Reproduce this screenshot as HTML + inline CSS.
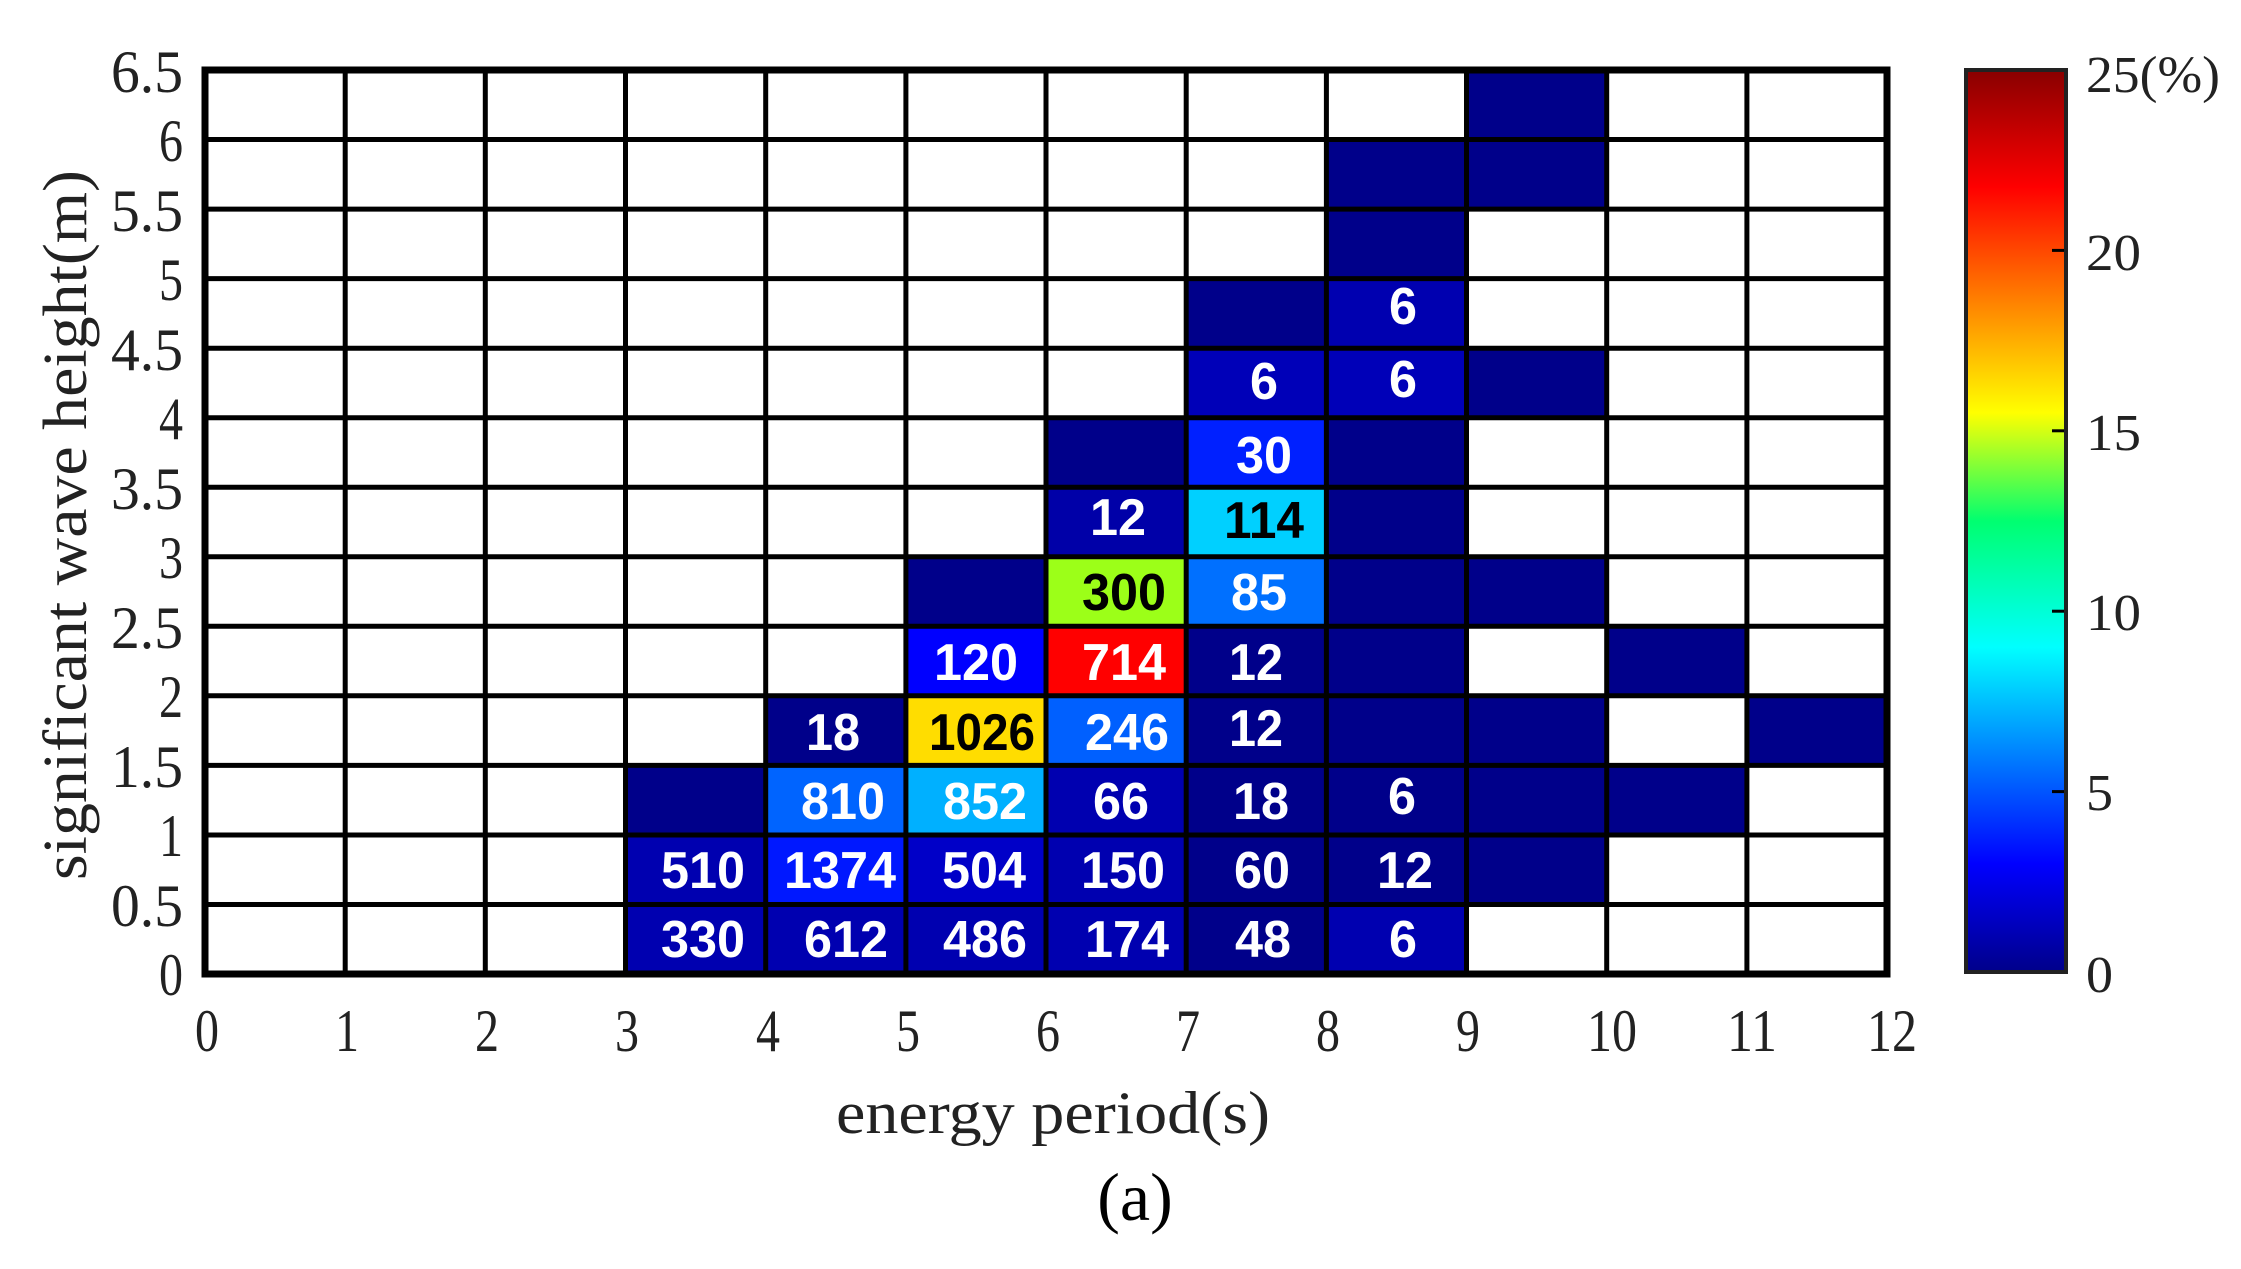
<!DOCTYPE html>
<html><head><meta charset="utf-8"><style>
html,body{margin:0;padding:0;background:#fff;}
svg{display:block;}
.t{font-family:"Liberation Serif",serif;font-size:60px;fill:#222;}
.n{font-family:"Liberation Sans",sans-serif;font-weight:bold;font-size:52px;fill:#fff;text-anchor:middle;}
.k{fill:#000;}
</style></head><body>
<svg width="2241" height="1269" xmlns="http://www.w3.org/2000/svg">
<defs>
<linearGradient id="jet" x1="0" y1="1" x2="0" y2="0">
<stop offset="0" stop-color="#00008a"/>
<stop offset="0.12" stop-color="#0000ff"/>
<stop offset="0.36" stop-color="#00ffff"/>
<stop offset="0.5" stop-color="#00ff70"/>
<stop offset="0.62" stop-color="#ffff00"/>
<stop offset="0.87" stop-color="#ff0000"/>
<stop offset="1" stop-color="#880000"/>
</linearGradient>
</defs>
<g>
<rect x="625.5" y="904.5" width="141" height="70" fill="#0000b0"/>
<rect x="765.7" y="904.5" width="141" height="70" fill="#0000b0"/>
<rect x="905.9" y="904.5" width="141" height="70" fill="#0000b0"/>
<rect x="1046" y="904.5" width="141" height="70" fill="#0000b0"/>
<rect x="1186.2" y="904.5" width="141" height="70" fill="#00008a"/>
<rect x="1326.4" y="904.5" width="141" height="70" fill="#0000b0"/>
<rect x="625.5" y="835" width="141" height="70" fill="#0000b0"/>
<rect x="765.7" y="835" width="141" height="70" fill="#0018ff"/>
<rect x="905.9" y="835" width="141" height="70" fill="#0000c8"/>
<rect x="1046" y="835" width="141" height="70" fill="#0000b0"/>
<rect x="1186.2" y="835" width="141" height="70" fill="#00008a"/>
<rect x="1326.4" y="835" width="141" height="70" fill="#00008a"/>
<rect x="1466.5" y="835" width="141" height="70" fill="#00008a"/>
<rect x="625.5" y="765.4" width="141" height="70" fill="#00008a"/>
<rect x="765.7" y="765.4" width="141" height="70" fill="#0064ff"/>
<rect x="905.9" y="765.4" width="141" height="70" fill="#00b0ff"/>
<rect x="1046" y="765.4" width="141" height="70" fill="#0000b0"/>
<rect x="1186.2" y="765.4" width="141" height="70" fill="#00008a"/>
<rect x="1326.4" y="765.4" width="141" height="70" fill="#00008a"/>
<rect x="1466.5" y="765.4" width="141" height="70" fill="#00008a"/>
<rect x="1606.7" y="765.4" width="141" height="70" fill="#00008a"/>
<rect x="765.7" y="695.8" width="141" height="70" fill="#00008a"/>
<rect x="905.9" y="695.8" width="141" height="70" fill="#ffdd00"/>
<rect x="1046" y="695.8" width="141" height="70" fill="#0060ff"/>
<rect x="1186.2" y="695.8" width="141" height="70" fill="#00008a"/>
<rect x="1326.4" y="695.8" width="141" height="70" fill="#00008a"/>
<rect x="1466.5" y="695.8" width="141" height="70" fill="#00008a"/>
<rect x="1746.9" y="695.8" width="141" height="70" fill="#00008a"/>
<rect x="905.9" y="626.3" width="141" height="70" fill="#0000ff"/>
<rect x="1046" y="626.3" width="141" height="70" fill="#ff0000"/>
<rect x="1186.2" y="626.3" width="141" height="70" fill="#00008a"/>
<rect x="1326.4" y="626.3" width="141" height="70" fill="#00008a"/>
<rect x="1606.7" y="626.3" width="141" height="70" fill="#00008a"/>
<rect x="905.9" y="556.8" width="141" height="70" fill="#00008a"/>
<rect x="1046" y="556.8" width="141" height="70" fill="#9cff18"/>
<rect x="1186.2" y="556.8" width="141" height="70" fill="#0070ff"/>
<rect x="1326.4" y="556.8" width="141" height="70" fill="#00008a"/>
<rect x="1466.5" y="556.8" width="141" height="70" fill="#00008a"/>
<rect x="1046" y="487.2" width="141" height="70" fill="#0000a8"/>
<rect x="1186.2" y="487.2" width="141" height="70" fill="#00d0ff"/>
<rect x="1326.4" y="487.2" width="141" height="70" fill="#00008a"/>
<rect x="1046" y="417.7" width="141" height="70" fill="#00008a"/>
<rect x="1186.2" y="417.7" width="141" height="70" fill="#0020ff"/>
<rect x="1326.4" y="417.7" width="141" height="70" fill="#00008a"/>
<rect x="1186.2" y="348.2" width="141" height="70" fill="#0000b8"/>
<rect x="1326.4" y="348.2" width="141" height="70" fill="#0000b8"/>
<rect x="1466.5" y="348.2" width="141" height="70" fill="#00008a"/>
<rect x="1186.2" y="278.6" width="141" height="70" fill="#00008a"/>
<rect x="1326.4" y="278.6" width="141" height="70" fill="#0000b0"/>
<rect x="1326.4" y="209.1" width="141" height="70" fill="#00008a"/>
<rect x="1326.4" y="139.5" width="141" height="70" fill="#00008a"/>
<rect x="1466.5" y="139.5" width="141" height="70" fill="#00008a"/>
<rect x="1466.5" y="70" width="141" height="70" fill="#00008a"/>
</g>
<g class="n">
<text x="703" y="957" textLength="84" lengthAdjust="spacingAndGlyphs">330</text>
<text x="846" y="957" textLength="84" lengthAdjust="spacingAndGlyphs">612</text>
<text x="985" y="957" textLength="84" lengthAdjust="spacingAndGlyphs">486</text>
<text x="1127" y="957" textLength="84" lengthAdjust="spacingAndGlyphs">174</text>
<text x="1263" y="957" textLength="56" lengthAdjust="spacingAndGlyphs">48</text>
<text x="1403" y="957" textLength="28" lengthAdjust="spacingAndGlyphs">6</text>
<text x="703" y="888" textLength="84" lengthAdjust="spacingAndGlyphs">510</text>
<text x="840" y="888" textLength="112" lengthAdjust="spacingAndGlyphs">1374</text>
<text x="984" y="888" textLength="84" lengthAdjust="spacingAndGlyphs">504</text>
<text x="1123" y="888" textLength="84" lengthAdjust="spacingAndGlyphs">150</text>
<text x="1262" y="888" textLength="56" lengthAdjust="spacingAndGlyphs">60</text>
<text x="1405" y="888" textLength="56" lengthAdjust="spacingAndGlyphs">12</text>
<text x="843" y="819" textLength="84" lengthAdjust="spacingAndGlyphs">810</text>
<text x="985" y="819" textLength="84" lengthAdjust="spacingAndGlyphs">852</text>
<text x="1121" y="819" textLength="56" lengthAdjust="spacingAndGlyphs">66</text>
<text x="1261" y="819" textLength="56" lengthAdjust="spacingAndGlyphs">18</text>
<text x="1402" y="814" textLength="28" lengthAdjust="spacingAndGlyphs">6</text>
<text x="833" y="750" textLength="54" lengthAdjust="spacingAndGlyphs">18</text>
<text class="n k" x="982" y="750" textLength="106" lengthAdjust="spacingAndGlyphs">1026</text>
<text x="1127" y="750" textLength="84" lengthAdjust="spacingAndGlyphs">246</text>
<text x="1256" y="746" textLength="54" lengthAdjust="spacingAndGlyphs">12</text>
<text x="976" y="680" textLength="84" lengthAdjust="spacingAndGlyphs">120</text>
<text x="1124" y="680" textLength="84" lengthAdjust="spacingAndGlyphs">714</text>
<text x="1256" y="680" textLength="54" lengthAdjust="spacingAndGlyphs">12</text>
<text class="n k" x="1124" y="610" textLength="84" lengthAdjust="spacingAndGlyphs">300</text>
<text x="1259" y="610" textLength="56" lengthAdjust="spacingAndGlyphs">85</text>
<text x="1118" y="535" textLength="56" lengthAdjust="spacingAndGlyphs">12</text>
<text class="n k" x="1264" y="538" textLength="80" lengthAdjust="spacingAndGlyphs">114</text>
<text x="1264" y="473" textLength="56" lengthAdjust="spacingAndGlyphs">30</text>
<text x="1264" y="399" textLength="28" lengthAdjust="spacingAndGlyphs">6</text>
<text x="1403" y="397" textLength="28" lengthAdjust="spacingAndGlyphs">6</text>
<text x="1403" y="324" textLength="28" lengthAdjust="spacingAndGlyphs">6</text>
</g>
<g stroke="#000" stroke-width="5">
<line x1="345.2" y1="70" x2="345.2" y2="974"/>
<line x1="485.3" y1="70" x2="485.3" y2="974"/>
<line x1="625.5" y1="70" x2="625.5" y2="974"/>
<line x1="765.7" y1="70" x2="765.7" y2="974"/>
<line x1="905.9" y1="70" x2="905.9" y2="974"/>
<line x1="1046" y1="70" x2="1046" y2="974"/>
<line x1="1186.2" y1="70" x2="1186.2" y2="974"/>
<line x1="1326.4" y1="70" x2="1326.4" y2="974"/>
<line x1="1466.5" y1="70" x2="1466.5" y2="974"/>
<line x1="1606.7" y1="70" x2="1606.7" y2="974"/>
<line x1="1746.9" y1="70" x2="1746.9" y2="974"/>
<line x1="205" y1="904.5" x2="1887" y2="904.5"/>
<line x1="205" y1="835" x2="1887" y2="835"/>
<line x1="205" y1="765.4" x2="1887" y2="765.4"/>
<line x1="205" y1="695.8" x2="1887" y2="695.8"/>
<line x1="205" y1="626.3" x2="1887" y2="626.3"/>
<line x1="205" y1="556.8" x2="1887" y2="556.8"/>
<line x1="205" y1="487.2" x2="1887" y2="487.2"/>
<line x1="205" y1="417.7" x2="1887" y2="417.7"/>
<line x1="205" y1="348.2" x2="1887" y2="348.2"/>
<line x1="205" y1="278.6" x2="1887" y2="278.6"/>
<line x1="205" y1="209.1" x2="1887" y2="209.1"/>
<line x1="205" y1="139.5" x2="1887" y2="139.5"/>
</g>
<rect x="205" y="70" width="1682" height="904" fill="none" stroke="#000" stroke-width="7"/>
<g class="t" text-anchor="middle">
<text x="207" y="1051" textLength="24" lengthAdjust="spacingAndGlyphs">0</text>
<text x="347" y="1051" textLength="24" lengthAdjust="spacingAndGlyphs">1</text>
<text x="487" y="1051" textLength="24" lengthAdjust="spacingAndGlyphs">2</text>
<text x="627" y="1051" textLength="24" lengthAdjust="spacingAndGlyphs">3</text>
<text x="768" y="1051" textLength="24" lengthAdjust="spacingAndGlyphs">4</text>
<text x="908" y="1051" textLength="24" lengthAdjust="spacingAndGlyphs">5</text>
<text x="1048" y="1051" textLength="24" lengthAdjust="spacingAndGlyphs">6</text>
<text x="1188" y="1051" textLength="24" lengthAdjust="spacingAndGlyphs">7</text>
<text x="1328" y="1051" textLength="24" lengthAdjust="spacingAndGlyphs">8</text>
<text x="1468" y="1051" textLength="24" lengthAdjust="spacingAndGlyphs">9</text>
<text x="1612" y="1051" textLength="50" lengthAdjust="spacingAndGlyphs">10</text>
<text x="1752" y="1051" textLength="50" lengthAdjust="spacingAndGlyphs">11</text>
<text x="1892" y="1051" textLength="50" lengthAdjust="spacingAndGlyphs">12</text>
</g>
<g class="t" text-anchor="end">
<text x="183" y="995" textLength="24" lengthAdjust="spacingAndGlyphs">0</text>
<text x="183" y="926" textLength="72" lengthAdjust="spacingAndGlyphs">0.5</text>
<text x="183" y="856" textLength="24" lengthAdjust="spacingAndGlyphs">1</text>
<text x="183" y="787" textLength="72" lengthAdjust="spacingAndGlyphs">1.5</text>
<text x="183" y="717" textLength="24" lengthAdjust="spacingAndGlyphs">2</text>
<text x="183" y="648" textLength="72" lengthAdjust="spacingAndGlyphs">2.5</text>
<text x="183" y="578" textLength="24" lengthAdjust="spacingAndGlyphs">3</text>
<text x="183" y="509" textLength="72" lengthAdjust="spacingAndGlyphs">3.5</text>
<text x="183" y="439" textLength="24" lengthAdjust="spacingAndGlyphs">4</text>
<text x="183" y="370" textLength="72" lengthAdjust="spacingAndGlyphs">4.5</text>
<text x="183" y="300" textLength="24" lengthAdjust="spacingAndGlyphs">5</text>
<text x="183" y="231" textLength="72" lengthAdjust="spacingAndGlyphs">5.5</text>
<text x="183" y="161" textLength="24" lengthAdjust="spacingAndGlyphs">6</text>
<text x="183" y="92" textLength="72" lengthAdjust="spacingAndGlyphs">6.5</text>
</g>
<rect x="1966" y="70" width="100" height="902" fill="url(#jet)" stroke="#222" stroke-width="4"/>
<g stroke="#000" stroke-width="3">
<line x1="2052" y1="791.6" x2="2064" y2="791.6"/>
<line x1="2052" y1="611.2" x2="2064" y2="611.2"/>
<line x1="2052" y1="430.8" x2="2064" y2="430.8"/>
<line x1="2052" y1="250.4" x2="2064" y2="250.4"/>
</g>
<g class="t" style="font-size:52px">
<text x="2086" y="92" textLength="134" lengthAdjust="spacingAndGlyphs">25(%)</text>
<text x="2086" y="270" textLength="55" lengthAdjust="spacingAndGlyphs">20</text>
<text x="2086" y="450" textLength="55" lengthAdjust="spacingAndGlyphs">15</text>
<text x="2086" y="630" textLength="55" lengthAdjust="spacingAndGlyphs">10</text>
<text x="2086" y="810" textLength="27" lengthAdjust="spacingAndGlyphs">5</text>
<text x="2086" y="992" textLength="27" lengthAdjust="spacingAndGlyphs">0</text>
</g>
<text class="t" x="1053" y="1133" text-anchor="middle" style="font-size:60px" textLength="434" lengthAdjust="spacingAndGlyphs">energy period(s)</text>
<text class="t" x="0" y="0" text-anchor="middle" style="font-size:62px" textLength="710" lengthAdjust="spacingAndGlyphs" transform="translate(86,525) rotate(-90)">significant wave height(m)</text>
<text class="t" x="1135" y="1220" text-anchor="middle" style="font-size:68px;fill:#000">(a)</text>
</svg>
</body></html>
